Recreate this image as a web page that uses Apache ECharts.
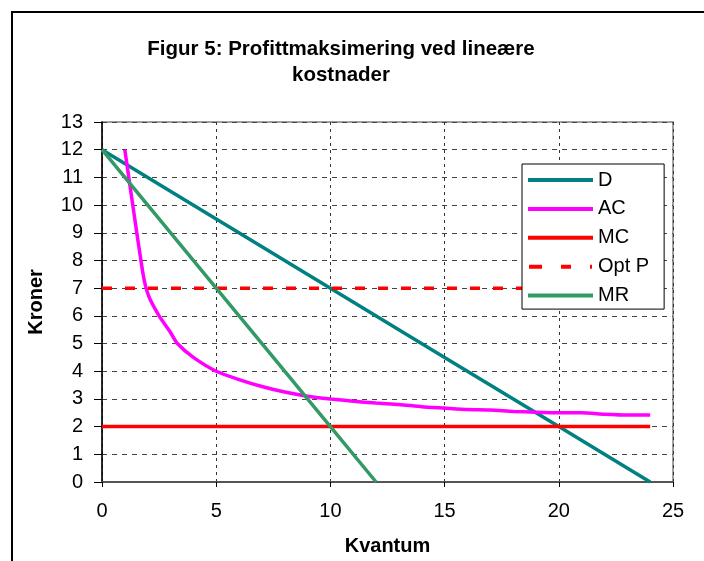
<!DOCTYPE html>
<html>
<head>
<meta charset="utf-8">
<script src="https://cdn.jsdelivr.net/npm/echarts@6/dist/echarts.min.js"></script>
<style>html,body{margin:0;padding:0;background:#fff}#c{width:704px;height:561px}</style>
</head>
<body>
<div id="c"></div>
<script>
const titleText = 'Figur 5: Profittmaksimering ved lineære\nkostnader';
const xName = 'Kvantum';
const yName = 'Kroner';

const dQ = [0, 5, 10, 15, 20, 24];
const dP = [12, 9.5, 7, 4.5, 2, 0];

const acQ = [1, 1.8, 2.05, 2.5, 3, 3.3, 4, 5, 6, 7, 8, 9, 10, 11, 12, 13, 14, 15, 16, 17, 18, 19, 20, 21, 22, 23, 24];
const acP = [12, 7.5, 6.7, 6.0, 5.4, 5.0, 4.5, 4.0, 3.7, 3.45, 3.25, 3.1, 3.0, 2.92, 2.85, 2.8, 2.72, 2.67, 2.62, 2.6, 2.55, 2.52, 2.5, 2.5, 2.45, 2.42, 2.42];

const mcQ = [0, 24];
const mcP = [2, 2];

const optQ = [0, 24];
const optP = [7, 7];

const mrQ = [0, 5, 10, 12];
const mrP = [12, 7, 2, 0];

const names = ['D', 'AC', 'MC', 'Opt P', 'MR'];
const colors = ['#008080', '#FF00FF', '#FF0000', '#FF0000', '#339966'];

function pairs(xs, ys) { return xs.map((x, i) => [x, ys[i]]); }

const solidIcon = 'path://M0,0H65V4H0Z';
const dashIcon = 'path://M0,0H3V4H0Z M3,0H13V4H3Z M32,0H42V4H32Z M61,0H63V4H61Z';

const chart = echarts.init(document.getElementById('c'), null, {renderer: 'canvas'});
const font = 'Liberation Sans, Arial, sans-serif';

chart.setOption({
  animation: false,
  backgroundColor: '#fff',
  title: {
    text: titleText,
    left: 336, top: 31, textAlign: 'center',
    textStyle: {fontFamily: font, fontWeight: 'bold', fontSize: 20.5, lineHeight: 26, color: '#000'}
  },
  graphic: [{
    type: 'rect', z: -10,
    shape: {x: 12, y: 12, width: 800, height: 700},
    style: {fill: 'none', stroke: '#000', lineWidth: 2}
  }],
  grid: {left: 102, right: 31, top: 122, bottom: 70, show: true, borderColor: '#808080', borderWidth: 1.5, backgroundColor: 'transparent'},
  legend: {
    orient: 'vertical', left: 522, top: 164,
    padding: [6, 15, 3.5, 6],
    itemWidth: 65, itemHeight: 4, itemGap: 8.9,
    backgroundColor: '#fff', borderColor: '#000', borderWidth: 1,
    textStyle: {fontFamily: font, fontSize: 20, lineHeight: 18, color: '#000', padding: [0, 0, 0, 0]},
    data: names.map((n, i) => ({name: n, icon: n === 'Opt P' ? dashIcon : solidIcon, itemStyle: {color: colors[i]}}))
  },
  xAxis: {
    type: 'value', min: 0, max: 25, interval: 5,
    name: xName, nameLocation: 'middle', nameGap: 54,
    nameTextStyle: {fontFamily: font, fontWeight: 'bold', fontSize: 20, color: '#000'},
    axisLine: {show: true, onZero: false, lineStyle: {color: '#555', width: 2}},
    axisTick: {show: true, length: 5, lineStyle: {color: '#000'}},
    axisLabel: {fontFamily: font, fontSize: 20, color: '#000', margin: 19},
    splitLine: {show: true, lineStyle: {color: '#333', type: [3, 4], width: 1}}
  },
  yAxis: {
    type: 'value', min: 0, max: 13, interval: 1,
    name: yName, nameLocation: 'middle', nameGap: 56,
    nameTextStyle: {fontFamily: font, fontWeight: 'bold', fontSize: 20, color: '#000'},
    axisLine: {show: true, lineStyle: {color: '#000', width: 1.5}},
    axisTick: {show: true, length: 8, lineStyle: {color: '#000'}},
    axisLabel: {fontFamily: font, fontSize: 20, color: '#000', margin: 19},
    splitLine: {show: true, lineStyle: {color: '#444', type: [5, 5], width: 1}}
  },
  series: [
    {name: 'D', type: 'line', data: pairs(dQ, dP), symbol: 'none', lineStyle: {color: colors[0], width: 3.5}, itemStyle: {color: colors[0]}, z: 3},
    {name: 'AC', type: 'line', data: pairs(acQ, acP), symbol: 'none', smooth: 0.2, lineStyle: {color: colors[1], width: 3.5}, itemStyle: {color: colors[1]}, z: 3},
    {name: 'MC', type: 'line', data: pairs(mcQ, mcP), symbol: 'none', lineStyle: {color: colors[2], width: 3.5}, itemStyle: {color: colors[2]}, z: 3},
    {name: 'Opt P', type: 'line', data: pairs(optQ, optP), symbol: 'none', lineStyle: {color: colors[3], width: 3.5, type: [10, 13]}, itemStyle: {color: colors[3]}, z: 3},
    {name: 'MR', type: 'line', data: pairs(mrQ, mrP), symbol: 'none', lineStyle: {color: colors[4], width: 3.5}, itemStyle: {color: colors[4]}, z: 3}
  ]
});
</script>
</body>
</html>
